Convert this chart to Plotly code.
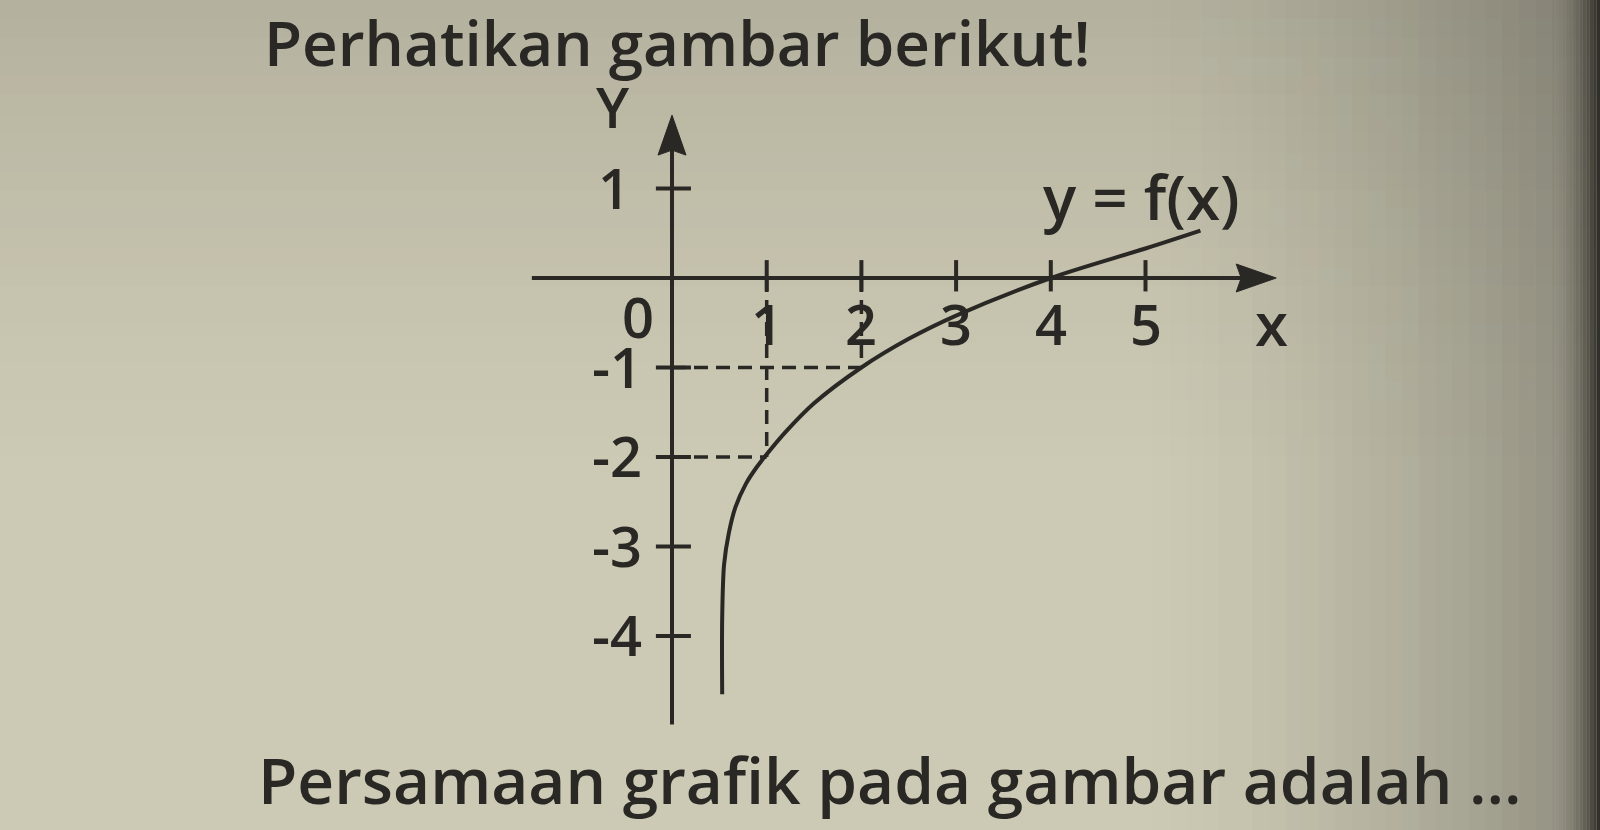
import plotly.graph_objects as go

# ---------------- data ----------------
curve_x = [0.53, 0.53, 0.55, 0.60, 0.67, 0.78, 0.89, 1.00, 1.20, 1.50, 2.00, 2.50, 3.00, 4.00, 5.00, 5.58]
curve_y = [-4.65, -3.80, -3.20, -2.85, -2.56, -2.30, -2.12, -1.97, -1.72, -1.40, -1.00, -0.68, -0.42, 0.00, 0.33, 0.53]

x_ticks = [1, 2, 3, 4, 5]
x_tick_labels = ["1", "2", "3", "4", "5"]
y_ticks = [1, -1, -2, -3, -4]
y_tick_labels = ["1", "-1", "-2", "-3", "-4"]

guide_x = [1, 2]      # dashed guide points (x, f(x))
guide_y = [-2, -1]

x_axis_extent = [-1.48, 6.38]
y_axis_extent = [-4.99, 1.82]

title_text = "Perhatikan gambar berikut!"
question_text = "Persamaan grafik pada gambar adalah ..."
curve_label = "y = f(x)"

# ---------------- style ----------------
W, H = 1600, 830
ink = "#2a2824"
font_family = "Open Sans"
# pixel mapping of the drawing (origin / unit sizes)
ox, oy = 672.0, 278.0
ux, uy = 94.7, 89.5
x_range = [-ox / ux, (W - ox) / ux]
y_range = [(oy - H) / uy, oy / uy]
head_len, head_half, head_notch = 40.0, 14.0, 5.0   # arrow head size in px

fig = go.Figure()

# dashed guides
gx, gy = [], []
for px_, py_ in zip(guide_x, guide_y):
    gx += [0, px_, None, px_, px_, None]
    gy += [py_, py_, None, 0, py_, None]
fig.add_trace(go.Scatter(x=gx, y=gy, mode="lines",
                         line=dict(color=ink, width=3.5, dash="14px,8px"),
                         hoverinfo="skip", showlegend=False))

# tick marks
tx, ty = [], []
for v in x_ticks:
    tx += [v, v, None]
    ty += [0.2, -0.15, None]
for v in y_ticks:
    tx += [-0.17, 0.2, None]
    ty += [v, v, None]
fig.add_trace(go.Scatter(x=tx, y=ty, mode="lines",
                         line=dict(color=ink, width=4),
                         hoverinfo="skip", showlegend=False))

# axes lines
xt, yt = x_axis_extent[1], y_axis_extent[1]
fig.add_trace(go.Scatter(
    x=[x_axis_extent[0], xt - head_len / ux * 0.8, None, 0, 0],
    y=[0, 0, None, y_axis_extent[0], yt - head_len / uy * 0.8],
    mode="lines", line=dict(color=ink, width=4), hoverinfo="skip", showlegend=False))

# arrow heads
fig.add_trace(go.Scatter(
    x=[xt, xt - head_len / ux, xt - (head_len - head_notch) / ux, xt - head_len / ux, xt],
    y=[0, head_half / uy, 0, -head_half / uy, 0],
    mode="lines", fill="toself", fillcolor=ink, line=dict(color=ink, width=1),
    hoverinfo="skip", showlegend=False))
fig.add_trace(go.Scatter(
    x=[0, head_half / ux, 0, -head_half / ux, 0],
    y=[yt, yt - head_len / uy, yt - (head_len - head_notch) / uy, yt - head_len / uy, yt],
    mode="lines", fill="toself", fillcolor=ink, line=dict(color=ink, width=1),
    hoverinfo="skip", showlegend=False))

# curve y = f(x)
fig.add_trace(go.Scatter(x=curve_x, y=curve_y, mode="lines",
                         line=dict(color=ink, width=4, shape="spline", smoothing=0.9),
                         hoverinfo="skip", showlegend=False))

annotations = []
tick_font = dict(family=font_family, size=56, color=ink, weight=600)
for v, t in zip(x_ticks, x_tick_labels):
    annotations.append(dict(x=v, y=-0.5, xref="x", yref="y", text=t, showarrow=False,
                            font=tick_font, xanchor="center", yanchor="middle"))
for v, t in zip(y_ticks, y_tick_labels):
    annotations.append(dict(x=-0.3 if t != "1" else -0.42, y=v + 0.02, xref="x", yref="y",
                            text=t, showarrow=False,
                            font=tick_font, xanchor="right", yanchor="middle"))
annotations.append(dict(x=-0.36, y=-0.42, xref="x", yref="y", text="0", showarrow=False,
                        font=tick_font, xanchor="center", yanchor="middle"))
annotations.append(dict(x=6.33, y=-0.5, xref="x", yref="y", text="x", showarrow=False,
                        font=dict(family=font_family, size=60, color=ink, weight=600),
                        xanchor="center", yanchor="middle"))
annotations.append(dict(x=-0.62, y=1.92, xref="x", yref="y", text="Y", showarrow=False,
                        font=dict(family=font_family, size=56, color=ink, weight=600),
                        xanchor="center", yanchor="middle"))
annotations.append(dict(x=4.96, y=0.92, xref="x", yref="y", text=curve_label, showarrow=False,
                        font=dict(family=font_family, size=62, color=ink, weight=600),
                        xanchor="center", yanchor="middle"))

# texts of the page
annotations.append(dict(x=262 / W, y=1 - 42 / H, xref="paper", yref="paper", text=title_text,
                        showarrow=False, font=dict(family=font_family, size=62, color=ink, weight=600),
                        xanchor="left", yanchor="middle"))
annotations.append(dict(x=256 / W, y=1 - 779 / H, xref="paper", yref="paper", text=question_text,
                        showarrow=False, font=dict(family=font_family, size=64, color=ink, weight=600),
                        xanchor="left", yanchor="middle"))

# paper shading (photo vignette)
shapes = []
n = 24
for i in range(n):
    y0 = 1 - (i + 1) * 0.55 / n
    y1 = 1 - i * 0.55 / n
    shapes.append(dict(type="rect", xref="paper", yref="paper", x0=0, x1=1, y0=y0, y1=y1,
                       fillcolor="rgb(60,58,50)", opacity=0.16 * (1 - i / n) ** 1.3,
                       line=dict(width=0), layer="below"))
for i in range(n):
    x0 = 0.72 + i * 0.25 / n
    x1 = 0.72 + (i + 1) * 0.25 / n
    shapes.append(dict(type="rect", xref="paper", yref="paper", x0=x0, x1=x1, y0=0, y1=1,
                       fillcolor="rgb(45,44,40)", opacity=0.32 * ((i + 1) / n) ** 1.5,
                       line=dict(width=0), layer="below"))
m = 14
for i in range(m):
    a = 0.97 + i * 0.03 / m
    b = 0.97 + (i + 1) * 0.03 / m
    shapes.append(dict(type="rect", xref="paper", yref="paper", x0=a, x1=b, y0=0, y1=1,
                       fillcolor="rgb(38,37,33)", opacity=0.33 + 0.6 * ((i + 1) / m) ** 2,
                       line=dict(width=0), layer="below"))

fig.update_layout(
    width=W, height=H, autosize=False,
    margin=dict(l=0, r=0, t=0, b=0),
    paper_bgcolor="#ccc9b4", plot_bgcolor="rgba(0,0,0,0)",
    xaxis=dict(range=x_range, visible=False, fixedrange=True),
    yaxis=dict(range=y_range, visible=False, fixedrange=True),
    annotations=annotations, shapes=shapes, showlegend=False,
)

fig.write_html("out.html", config={"displayModeBar": False},
               post_script="document.body.style.margin='0';document.body.style.overflow='hidden';")
